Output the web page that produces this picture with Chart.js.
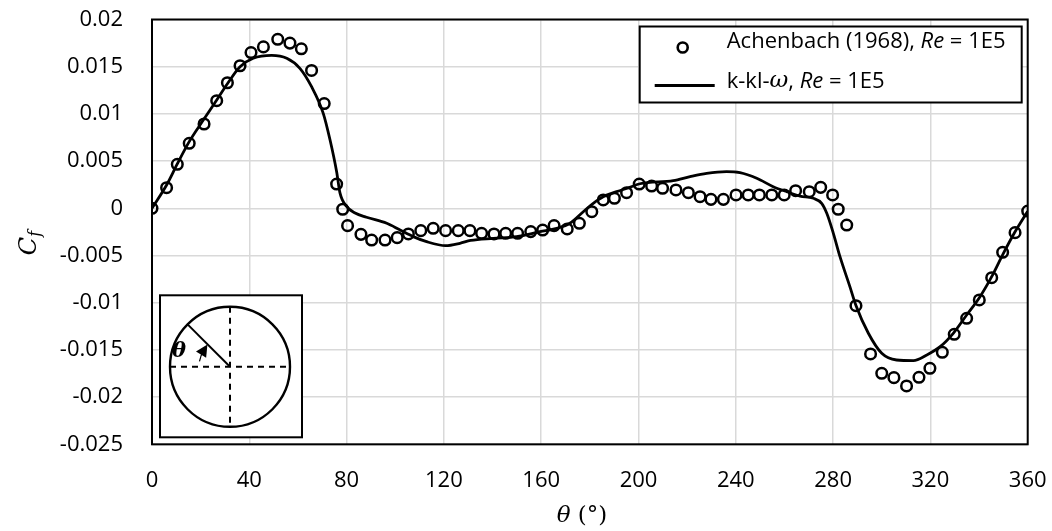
<!DOCTYPE html>
<html>
<head>
<meta charset="utf-8">
<script src="https://cdn.jsdelivr.net/npm/chart.js@4"></script>
<style>
  body { margin: 0; background: #fff; }
  canvas { display: block; }
</style>
</head>
<body>
<canvas id="cf" width="1052" height="531"></canvas>
<script>
// Achenbach (1968) measurements, theta in degrees
const achenTheta = [0, 6, 10.4, 15.3, 21.4, 26.6, 31, 36.2, 40.7, 45.8,
    51.7, 56.7, 61.4, 65.6, 70.8, 75.9, 78.4, 80.4, 85.9, 90.3,
    95.8, 100.8, 105.4, 110.5, 115.6, 120.7, 125.9, 130.7, 135.5, 140.6,
    145.4, 150.3, 155.7, 160.6, 165.3, 170.7, 175.7, 180.8, 185.5, 190.1,
    195.1, 200.3, 205.4, 209.9, 215.4, 220.5, 225.3, 229.8, 234.9, 240.1,
    245.1, 249.7, 254.8, 259.9, 264.6, 270.2, 274.9, 279.8, 282.1, 285.6,
    289.4, 295.4, 300, 305, 310.2, 315.3, 319.8, 324.9, 329.8, 334.9,
    340.1, 345.2, 349.7, 354.8, 360];
const achenCf = [0, 0.00218, 0.00466, 0.00689, 0.00893, 0.0114, 0.0133, 0.0151, 0.0165, 0.0171,
    0.0179, 0.0175, 0.0169, 0.0146, 0.0111, 0.00257, -0.0001, -0.00184, -0.00276, -0.00336,
    -0.00336, -0.00311, -0.00272, -0.00237, -0.00212, -0.00237, -0.00237, -0.00237, -0.00265, -0.00272,
    -0.00265, -0.00265, -0.00247, -0.0023, -0.00184, -0.00219, -0.00159, -0.00036, 0.00088, 0.00106,
    0.00165, 0.00257, 0.00236, 0.00212, 0.00194, 0.00165, 0.00123, 0.00095, 0.00095, 0.00141,
    0.00141, 0.00141, 0.00141, 0.00141, 0.00186, 0.00176, 0.00222, 0.00141, -0.0001, -0.00177,
    -0.01032, -0.01543, -0.01748, -0.01794, -0.01882, -0.0179, -0.01695, -0.01525, -0.01335, -0.01165,
    -0.00971, -0.00735, -0.00466, -0.00258, -0.00029];

// k-kl-omega model curve
const modelTheta = [0, 6, 10.4, 15.3, 21.1, 26.6, 31, 36.2, 41.6, 49.2,
    55.4, 60.8, 65.6, 70.4, 73.2, 75.9, 77.3, 80, 83.5, 88.2,
    96.5, 102, 107.4, 112.9, 120.7, 126.6, 131, 140.3, 149.9, 159.5,
    166.4, 171.8, 177.3, 181.4, 185.5, 191, 196.4, 200.6, 214.3, 221.2,
    228, 236.2, 241.7, 248.6, 255.4, 260.9, 266.4, 271.9, 275.3, 277.4,
    280.1, 282.8, 286.9, 289.4, 294.5, 300, 306.1, 313, 318.5, 324,
    329.4, 334.9, 340.4, 345.2, 350, 354.8, 360];
const modelCf = [0, 0.00247, 0.0047, 0.00706, 0.00935, 0.01147, 0.0132, 0.015, 0.01589, 0.0162,
    0.01589, 0.01483, 0.01288, 0.01006, 0.00723, 0.00388, 0.0016, 0.0002, -0.0005, -0.00095,
    -0.00159, -0.0023, -0.003, -0.00354, -0.00396, -0.00371, -0.0034, -0.00318, -0.003, -0.00248,
    -0.00212, -0.00159, -0.00036, 0.00053, 0.00123, 0.00176, 0.00222, 0.0026, 0.00292, 0.00335,
    0.0037, 0.00388, 0.00377, 0.00318, 0.00229, 0.00176, 0.0013, 0.00106, 0.00053, -0.00053,
    -0.00265, -0.0051, -0.0083, -0.0103, -0.01324, -0.01536, -0.01607, -0.01614, -0.01554, -0.01466,
    -0.01324, -0.0113, -0.00936, -0.00724, -0.00477, -0.00248, -0.0003];

// axis ticks
const xTicks = [0, 40, 80, 120, 160, 200, 240, 280, 320, 360];
const yTicks = [-0.025, -0.02, -0.015, -0.01, -0.005, 0, 0.005, 0.01, 0.015, 0.02];
const yTickLabels = ['-0.025', '-0.02', '-0.015', '-0.01', '-0.005', '0', '0.005', '0.01', '0.015', '0.02'];

const legendNames = [['Achenbach (1968), ', 'Re', ' = 1E5'], ['k-kl-', '\u03c9', ', ', 'Re', ' = 1E5']];

const toPoints = (xs, ys) => xs.map((x, i) => ({x: x, y: ys[i]}));

const tickFont = {family: "'Open Sans', sans-serif", size: 22};

// frame, legend box, inset sketch and axis titles
const decor = {
    id: 'decor',
    beforeDatasetsDraw(chart) {
        const a = chart.chartArea, ctx = chart.ctx;
        ctx.save();
        ctx.strokeStyle = '#000';
        ctx.lineWidth = 2;
        ctx.strokeRect(a.left, a.top, a.right - a.left, a.bottom - a.top);
        ctx.restore();
    },
    afterDraw(chart) {
        const a = chart.chartArea, ctx = chart.ctx;
        ctx.save();

        // legend
        const lx = a.right - 388, ly = a.top + 7, lw = 382, lh = 76;
        ctx.fillStyle = '#fff';
        ctx.fillRect(lx, ly, lw, lh);
        ctx.strokeStyle = '#000';
        ctx.lineWidth = 2;
        ctx.strokeRect(lx, ly, lw, lh);
        ctx.lineWidth = 2.6;
        ctx.beginPath();
        ctx.arc(lx + 43, ly + 21, 5, 0, Math.PI * 2);
        ctx.stroke();
        ctx.lineWidth = 3;
        ctx.beginPath();
        ctx.moveTo(lx + 15, ly + 59);
        ctx.lineTo(lx + 75, ly + 59);
        ctx.stroke();

        ctx.fillStyle = '#000';
        ctx.textBaseline = 'middle';
        ctx.textAlign = 'left';
        const fonts = {
            n: "22px 'Open Sans', sans-serif",
            i: "italic 22px 'Open Sans', sans-serif",
            m: "italic 23px 'DejaVu Serif', serif"
        };
        const rows = [
            [['n', legendNames[0][0]], ['i', legendNames[0][1]], ['n', legendNames[0][2]]],
            [['n', legendNames[1][0]], ['m', legendNames[1][1]], ['n', legendNames[1][2]], ['i', legendNames[1][3]], ['n', legendNames[1][4]]]
        ];
        rows.forEach((row, r) => {
            let x = lx + 87;
            const y = ly + 15 + r * 40;
            row.forEach(([f, t]) => {
                ctx.font = fonts[f];
                ctx.fillText(t, x, y);
                x += ctx.measureText(t).width;
            });
        });

        // inset sketch of the cylinder
        const bx = a.left + 8, by = a.bottom - 149, bw = 142, bh = 142;
        ctx.fillStyle = '#fff';
        ctx.fillRect(bx, by, bw, bh);
        ctx.fillStyle = '#000';
        ctx.lineWidth = 2;
        ctx.strokeRect(bx, by, bw, bh);
        const cx = bx + 70, cy = by + 71.5, r = 60;
        ctx.lineWidth = 2.4;
        ctx.beginPath();
        ctx.arc(cx, cy, r, 0, Math.PI * 2);
        ctx.stroke();
        ctx.lineWidth = 2;
        ctx.setLineDash([6, 5]);
        ctx.beginPath();
        ctx.moveTo(cx - r, cy);
        ctx.lineTo(cx + r, cy);
        ctx.moveTo(cx, cy - r);
        ctx.lineTo(cx, cy + r);
        ctx.stroke();
        ctx.setLineDash([]);
        ctx.beginPath();
        ctx.moveTo(cx, cy);
        ctx.lineTo(cx - r * Math.SQRT1_2, cy - r * Math.SQRT1_2);
        ctx.stroke();
        // curved arrow
        const ar = 31, a0 = -170 * Math.PI / 180, a1 = -148 * Math.PI / 180;
        ctx.lineWidth = 1.2;
        ctx.beginPath();
        ctx.arc(cx, cy, ar, a0, a1);
        ctx.stroke();
        const tx = cx + ar * Math.cos(a1), ty = cy + ar * Math.sin(a1);
        const dir = a1 + Math.PI / 2;
        ctx.beginPath();
        ctx.moveTo(tx + 7 * Math.cos(dir), ty + 7 * Math.sin(dir));
        ctx.lineTo(tx - 5 * Math.cos(dir) + 6 * Math.cos(a1), ty - 5 * Math.sin(dir) + 6 * Math.sin(a1));
        ctx.lineTo(tx - 5 * Math.cos(dir) - 6 * Math.cos(a1), ty - 5 * Math.sin(dir) - 6 * Math.sin(a1));
        ctx.closePath();
        ctx.fill();
        ctx.font = "bold italic 21px 'DejaVu Serif', serif";
        ctx.textAlign = 'center';
        ctx.fillText('\u03b8', bx + 19, cy - 15);

        // axis titles
        ctx.font = "italic 23px 'DejaVu Serif', serif";
        ctx.textAlign = 'left';
        const tw = ctx.measureText('\u03b8 ').width;
        ctx.font = "23px 'DejaVu Serif', serif";
        const tw2 = ctx.measureText('(\u00b0)').width;
        const x0 = 582 - (tw + tw2) / 2;
        ctx.font = "italic 23px 'DejaVu Serif', serif";
        ctx.fillText('\u03b8 ', x0, 516);
        ctx.font = "23px 'DejaVu Serif', serif";
        ctx.fillText('(\u00b0)', x0 + tw, 516);

        ctx.translate(30, 241);
        ctx.rotate(-Math.PI / 2);
        ctx.font = "italic 24px 'DejaVu Serif', serif";
        const cw = ctx.measureText('C').width;
        ctx.fillText('C', -cw / 2 - 5, 0);
        ctx.font = "italic 16px 'DejaVu Serif', serif";
        ctx.fillText('f', cw / 2 - 5, 6);
        ctx.restore();
    }
};

new Chart(document.getElementById('cf'), {
    type: 'scatter',
    data: {
        datasets: [{
            label: 'k-kl-\u03c9, Re = 1E5',
            data: toPoints(modelTheta, modelCf),
            showLine: true,
            borderColor: '#000',
            borderWidth: 2.8,
            pointRadius: 0,
            cubicInterpolationMode: 'monotone',
            order: 0
        }, {
            label: 'Achenbach (1968), Re = 1E5',
            data: toPoints(achenTheta, achenCf),
            pointStyle: 'circle',
            pointRadius: 5.3,
            pointBorderWidth: 2.5,
            borderColor: '#000',
            backgroundColor: 'rgba(0,0,0,0)',
            order: 1
        }]
    },
    options: {
        responsive: false,
        animation: false,
        devicePixelRatio: 1,
        layout: {padding: {top: 19.5, right: 24.3, left: 0, bottom: 0}},
        plugins: {legend: {display: false}, tooltip: {enabled: false}},
        scales: {
            x: {
                type: 'linear',
                min: 0,
                max: 360,
                afterBuildTicks: (s) => { s.ticks = xTicks.map(v => ({value: v})); },
                afterFit: (s) => { s.height = 86.7; s.paddingLeft = 0; s.paddingRight = 0; },
                grid: {color: '#d9d9d9', lineWidth: 1.5, drawTicks: false},
                border: {display: false},
                ticks: {color: '#000', font: tickFont, padding: 23, maxRotation: 0,
                    callback: (v) => String(v)}
            },
            y: {
                type: 'linear',
                min: -0.025,
                max: 0.02,
                afterBuildTicks: (s) => { s.ticks = yTicks.map(v => ({value: v})); },
                afterFit: (s) => { s.width = 152; s.paddingTop = 0; s.paddingBottom = 0; },
                grid: {color: '#d9d9d9', lineWidth: 1.5, drawTicks: false},
                border: {display: false},
                ticks: {color: '#000', font: tickFont, padding: 29,
                    callback: (v, i) => yTickLabels[i]}
            }
        }
    },
    plugins: [decor]
});
</script>
</body>
</html>
